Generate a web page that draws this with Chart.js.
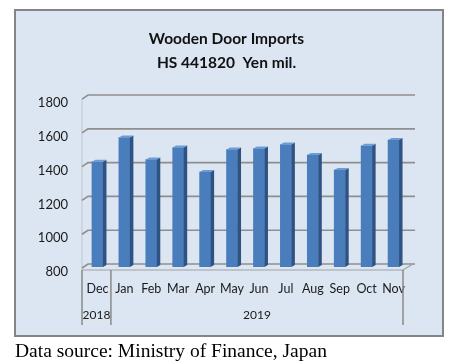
<!DOCTYPE html>
<html>
<head>
<meta charset="utf-8">
<script src="https://cdn.jsdelivr.net/npm/chart.js@4"></script>
<style>
  html, body { margin: 0; padding: 0; background: #fff; }
  #wrap { width: 461px; height: 364px; }
</style>
</head>
<body>
<div id="wrap"><canvas id="chart" width="461" height="364"></canvas></div>
<script>
const months = ['Dec', 'Jan', 'Feb', 'Mar', 'Apr', 'May', 'Jun', 'Jul', 'Aug', 'Sep', 'Oct', 'Nov']
const imports = [1423, 1566, 1436, 1507, 1362, 1495, 1501, 1525, 1463, 1374, 1517, 1551]
const yearLabels = ['2018', '2019']
const yearFirstMonth = [0, 1]
const yMin = 800
const yMax = 1800
const yStep = 200
const titleLines = ['Wooden Door Imports', 'HS 441820  Yen mil.']
const sourceNote = 'Data source: Ministry of Finance, Japan'

// panel background, border and the note under it
const panel = {
    id: 'panel',
    afterLayout(chart) {
        // centre the title over the panel rather than the whole canvas
        if (chart.titleBlock) chart.titleBlock.left += 46
    },
    beforeDraw(chart) {
        const ctx = chart.ctx
        ctx.save()
        ctx.fillStyle = '#ffffff'
        ctx.fillRect(0, 0, chart.width, chart.height)
        ctx.fillStyle = '#dce6f2'
        ctx.fillRect(15, 10, 428, 326)
        ctx.strokeStyle = '#858585'
        ctx.lineWidth = 2
        ctx.strokeRect(15, 10, 428, 326)
        ctx.restore()
    },
    afterDraw(chart) {
        const ctx = chart.ctx
        ctx.save()
        ctx.fillStyle = '#000'
        ctx.font = '19.5px "Liberation Serif"'
        ctx.textBaseline = 'alphabetic'
        ctx.fillText(sourceNote, 15, 357)
        ctx.restore()
    }
}

// back wall gridlines and the floor, a bit like Excel's 3D columns
const walls = {
    id: 'walls',
    beforeDatasetsDraw(chart) {
        const { ctx, chartArea: a, scales: { y } } = chart
        const frontL = a.left - 2, backL = a.left + 4
        const frontR = a.right - 4, backR = a.right + 8
        ctx.save()
        ctx.strokeStyle = '#bfc5cc'
        ctx.lineWidth = 1
        ctx.beginPath()
        ctx.moveTo(frontL, y.getPixelForValue(yMax) + 1)
        ctx.lineTo(frontL, y.getPixelForValue(yMin) + 3)
        ctx.stroke()
        ctx.strokeStyle = '#8e8e8e'
        ctx.lineWidth = 1.6
        y.ticks.forEach(t => {
            const yy = y.getPixelForValue(t.value) - 3
            ctx.beginPath()
            ctx.moveTo(frontL, yy + 4)
            ctx.lineTo(backL, yy)
            ctx.lineTo(backR, yy)
            ctx.stroke()
        })
        // floor
        const yb = y.getPixelForValue(yMin)
        ctx.strokeStyle = '#a0a0a0'
        ctx.lineWidth = 1.2
        ctx.beginPath()
        ctx.moveTo(frontL, yb + 3)
        ctx.lineTo(frontR, yb + 3)
        ctx.lineTo(backR - 2, yb - 3)
        ctx.stroke()
        ctx.restore()
    },
    afterDatasetsDraw(chart) {
        const { ctx, scales } = chart
        const floor = scales.y.getPixelForValue(yMin)
        const meta = chart.getDatasetMeta(0)
        ctx.save()
        meta.data.forEach(bar => {
            const { x, y, width } = bar.getProps(['x', 'y', 'width'], true)
            const base = floor
            const l = x - width / 2, r = x + width / 2
            const dx = 3.5, dy = 2
            ctx.fillStyle = '#2f5283'
            ctx.beginPath()
            ctx.moveTo(r, y)
            ctx.lineTo(r + dx, y - dy)
            ctx.lineTo(r + dx, base - dy)
            ctx.lineTo(r, base)
            ctx.closePath()
            ctx.fill()
            ctx.fillStyle = '#6e9bd4'
            ctx.beginPath()
            ctx.moveTo(l, y)
            ctx.lineTo(l + dx, y - dy)
            ctx.lineTo(r + dx, y - dy)
            ctx.lineTo(r, y)
            ctx.closePath()
            ctx.fill()
        })
        ctx.restore()
    }
}

// year row under the month labels
const years = {
    id: 'years',
    afterDraw(chart) {
        const { ctx, chartArea: a, scales: { x } } = chart
        const half = (x.getPixelForValue(1) - x.getPixelForValue(0)) / 2
        const edges = yearFirstMonth.map(i => x.getPixelForValue(i) - half)
        edges[0] = a.left - 2
        edges.push(a.right - 4)
        ctx.save()
        ctx.strokeStyle = '#8a8a8a'
        ctx.lineWidth = 1.5
        edges.forEach(ex => {
            ctx.beginPath()
            ctx.moveTo(ex, a.bottom + 3)
            ctx.lineTo(ex, 325)
            ctx.stroke()
        })
        ctx.fillStyle = '#1a1a1a'
        ctx.font = '12px Lato'
        ctx.textAlign = 'center'
        ctx.textBaseline = 'middle'
        yearLabels.forEach((lab, i) => {
            ctx.fillText(lab, (edges[i] + edges[i + 1]) / 2, 315)
        })
        ctx.restore()
    }
}

new Chart(document.getElementById('chart').getContext('2d'), {
    type: 'bar',
    data: {
        labels: months,
        datasets: [{
            data: imports,
            backgroundColor: '#4a7dbc',
            barThickness: 11
        }]
    },
    options: {
        responsive: false,
        animation: false,
        layout: { padding: { top: 14, right: 54, bottom: 0, left: 0 } },
        plugins: {
            legend: { display: false },
            tooltip: { enabled: false },
            title: {
                display: true,
                text: titleLines,
                color: '#111',
                font: { family: 'Lato', size: 15.5, weight: 'bold', lineHeight: 1.55 },
                padding: { top: 13, bottom: 23 }
            }
        },
        scales: {
            x: {
                grid: { display: false, drawTicks: false },
                border: { display: false },
                ticks: { color: '#1a1a1a', font: { family: 'Lato', size: 12.5 }, padding: 14, maxRotation: 0, autoSkip: false },
                afterFit(scale) { scale.height = 97 }
            },
            y: {
                min: yMin,
                max: yMax,
                grid: { display: false, drawTicks: false },
                border: { display: false },
                ticks: {
                    stepSize: yStep, color: '#1a1a1a', font: { family: 'Lato', size: 13 }, padding: 16, labelOffset: 5,
                    callback: v => String(v)
                },
                afterFit(scale) { scale.width = 84 }
            }
        }
    },
    plugins: [panel, walls, years]
})
</script>
</body>
</html>
